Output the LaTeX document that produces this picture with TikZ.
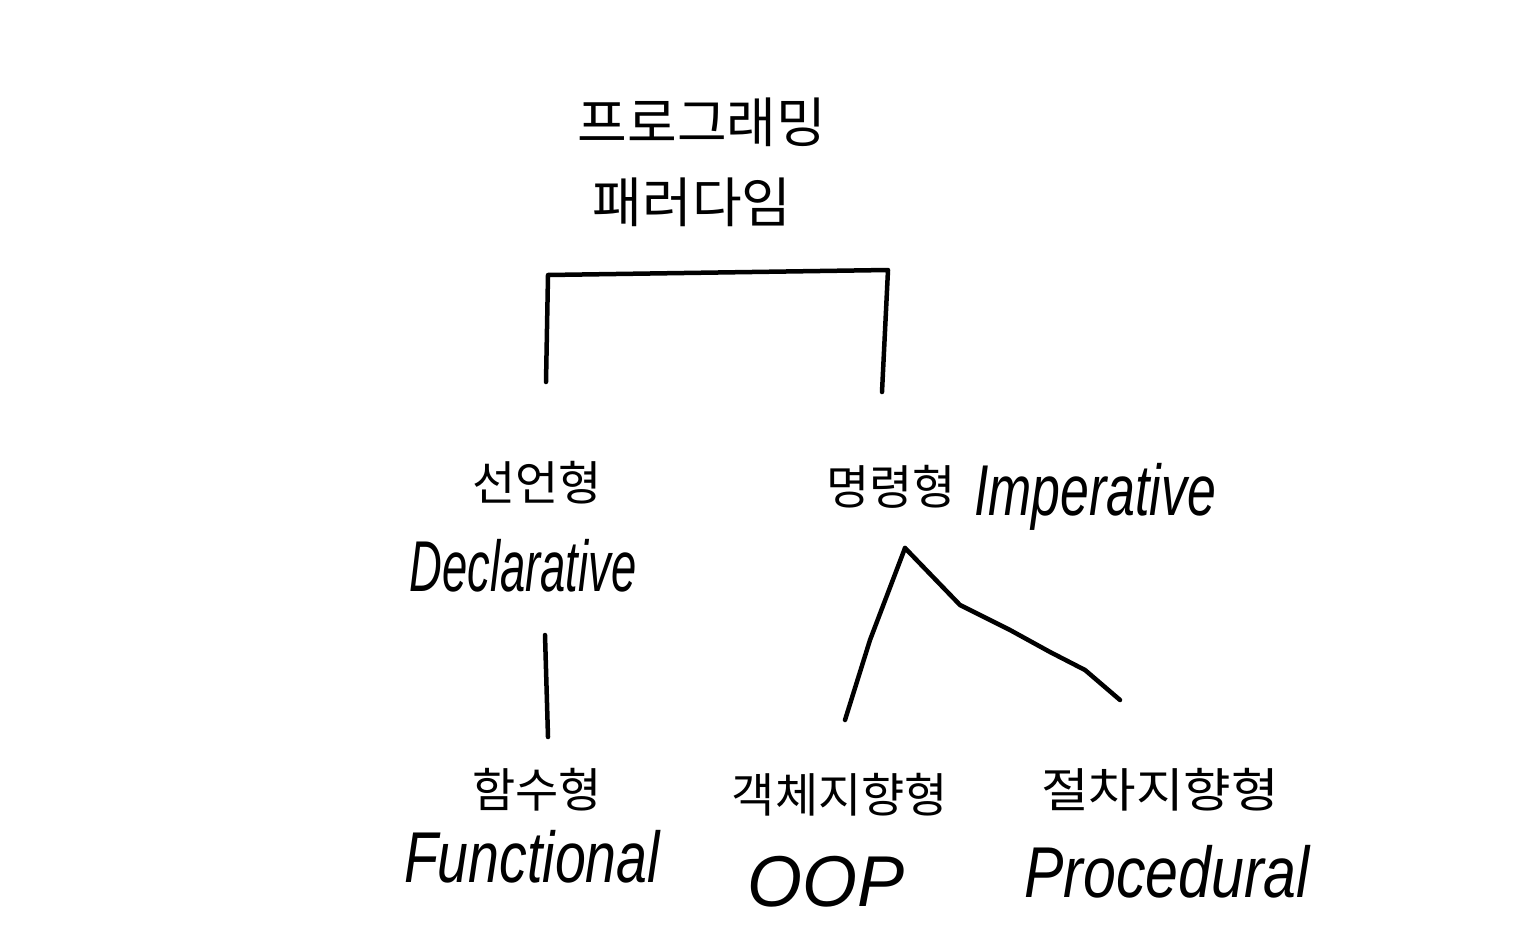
\documentclass[tikz,border=0pt]{standalone}
\usepackage{fontspec}
\newfontfamily\kr{Noto Sans CJK KR}
\newfontfamily\en{Liberation Sans}
\begin{document}
\begin{tikzpicture}[x=1pt,y=-1pt,
  ko/.style={font=\kr\fontsize{54}{58}\selectfont, inner sep=0pt},
  ko2/.style={font=\kr\fontsize{47}{50}\selectfont, inner sep=0pt},
  eng/.style={font=\en\itshape\fontsize{72}{76}\selectfont, inner sep=0pt},
  stroke/.style={line width=4.5pt, line cap=round, line join=round, black}]
\useasboundingbox[fill=white] (0,0) rectangle (1536,950);
% titles
\node[ko] (t1) at (702,122) {프로그래밍};
\node[ko] (t2) at (692,202) {패러다임};
% level 2
\node[ko2] (decK) at (537,483) {선언형};
\node[eng, xscale=0.63] (decE) at (523,566) {Declarative};
\node[ko2] (impK) at (891,487) {명령형};
\node[eng, xscale=0.72] (impE) at (1095,497) {Imperative};
% level 3
\node[ko2] (funK) at (537,790) {함수형};
\node[eng, xscale=0.77] (funE) at (532,857) {Functional};
\node[ko2] (oopK) at (840,795) {객체지향형};
\node[eng, xscale=0.98] (oopE) at (826,882) {OOP};
\node[ko2, xscale=1.1] (proK) at (1160,790) {절차지향형};
\node[eng, xscale=0.82] (proE) at (1167,872) {Procedural};
% connector coordinates
\coordinate (bl) at (546,382);
\coordinate (tl) at (548,275);
\coordinate (tr) at (888,270);
\coordinate (br) at (882,392);
\coordinate (d1) at (545,635);
\coordinate (d2) at (548,737);
\coordinate (apex) at (905,548);
\coordinate (oopTop) at (845,720);
\coordinate (proTop) at (1120,700);
% bracket
\draw[stroke] (bl) -- (tl) -- (tr) -- (br);
% declarative -> functional
\draw[stroke] (d1) -- (d2);
% imperative -> oop / procedural
\draw[stroke] (oopTop) -- (870,640) -- (apex);
\draw[stroke] (apex) -- (960,605) -- (1010,630) -- (1050,652) -- (1085,670) -- (proTop);
\end{tikzpicture}
\end{document}
